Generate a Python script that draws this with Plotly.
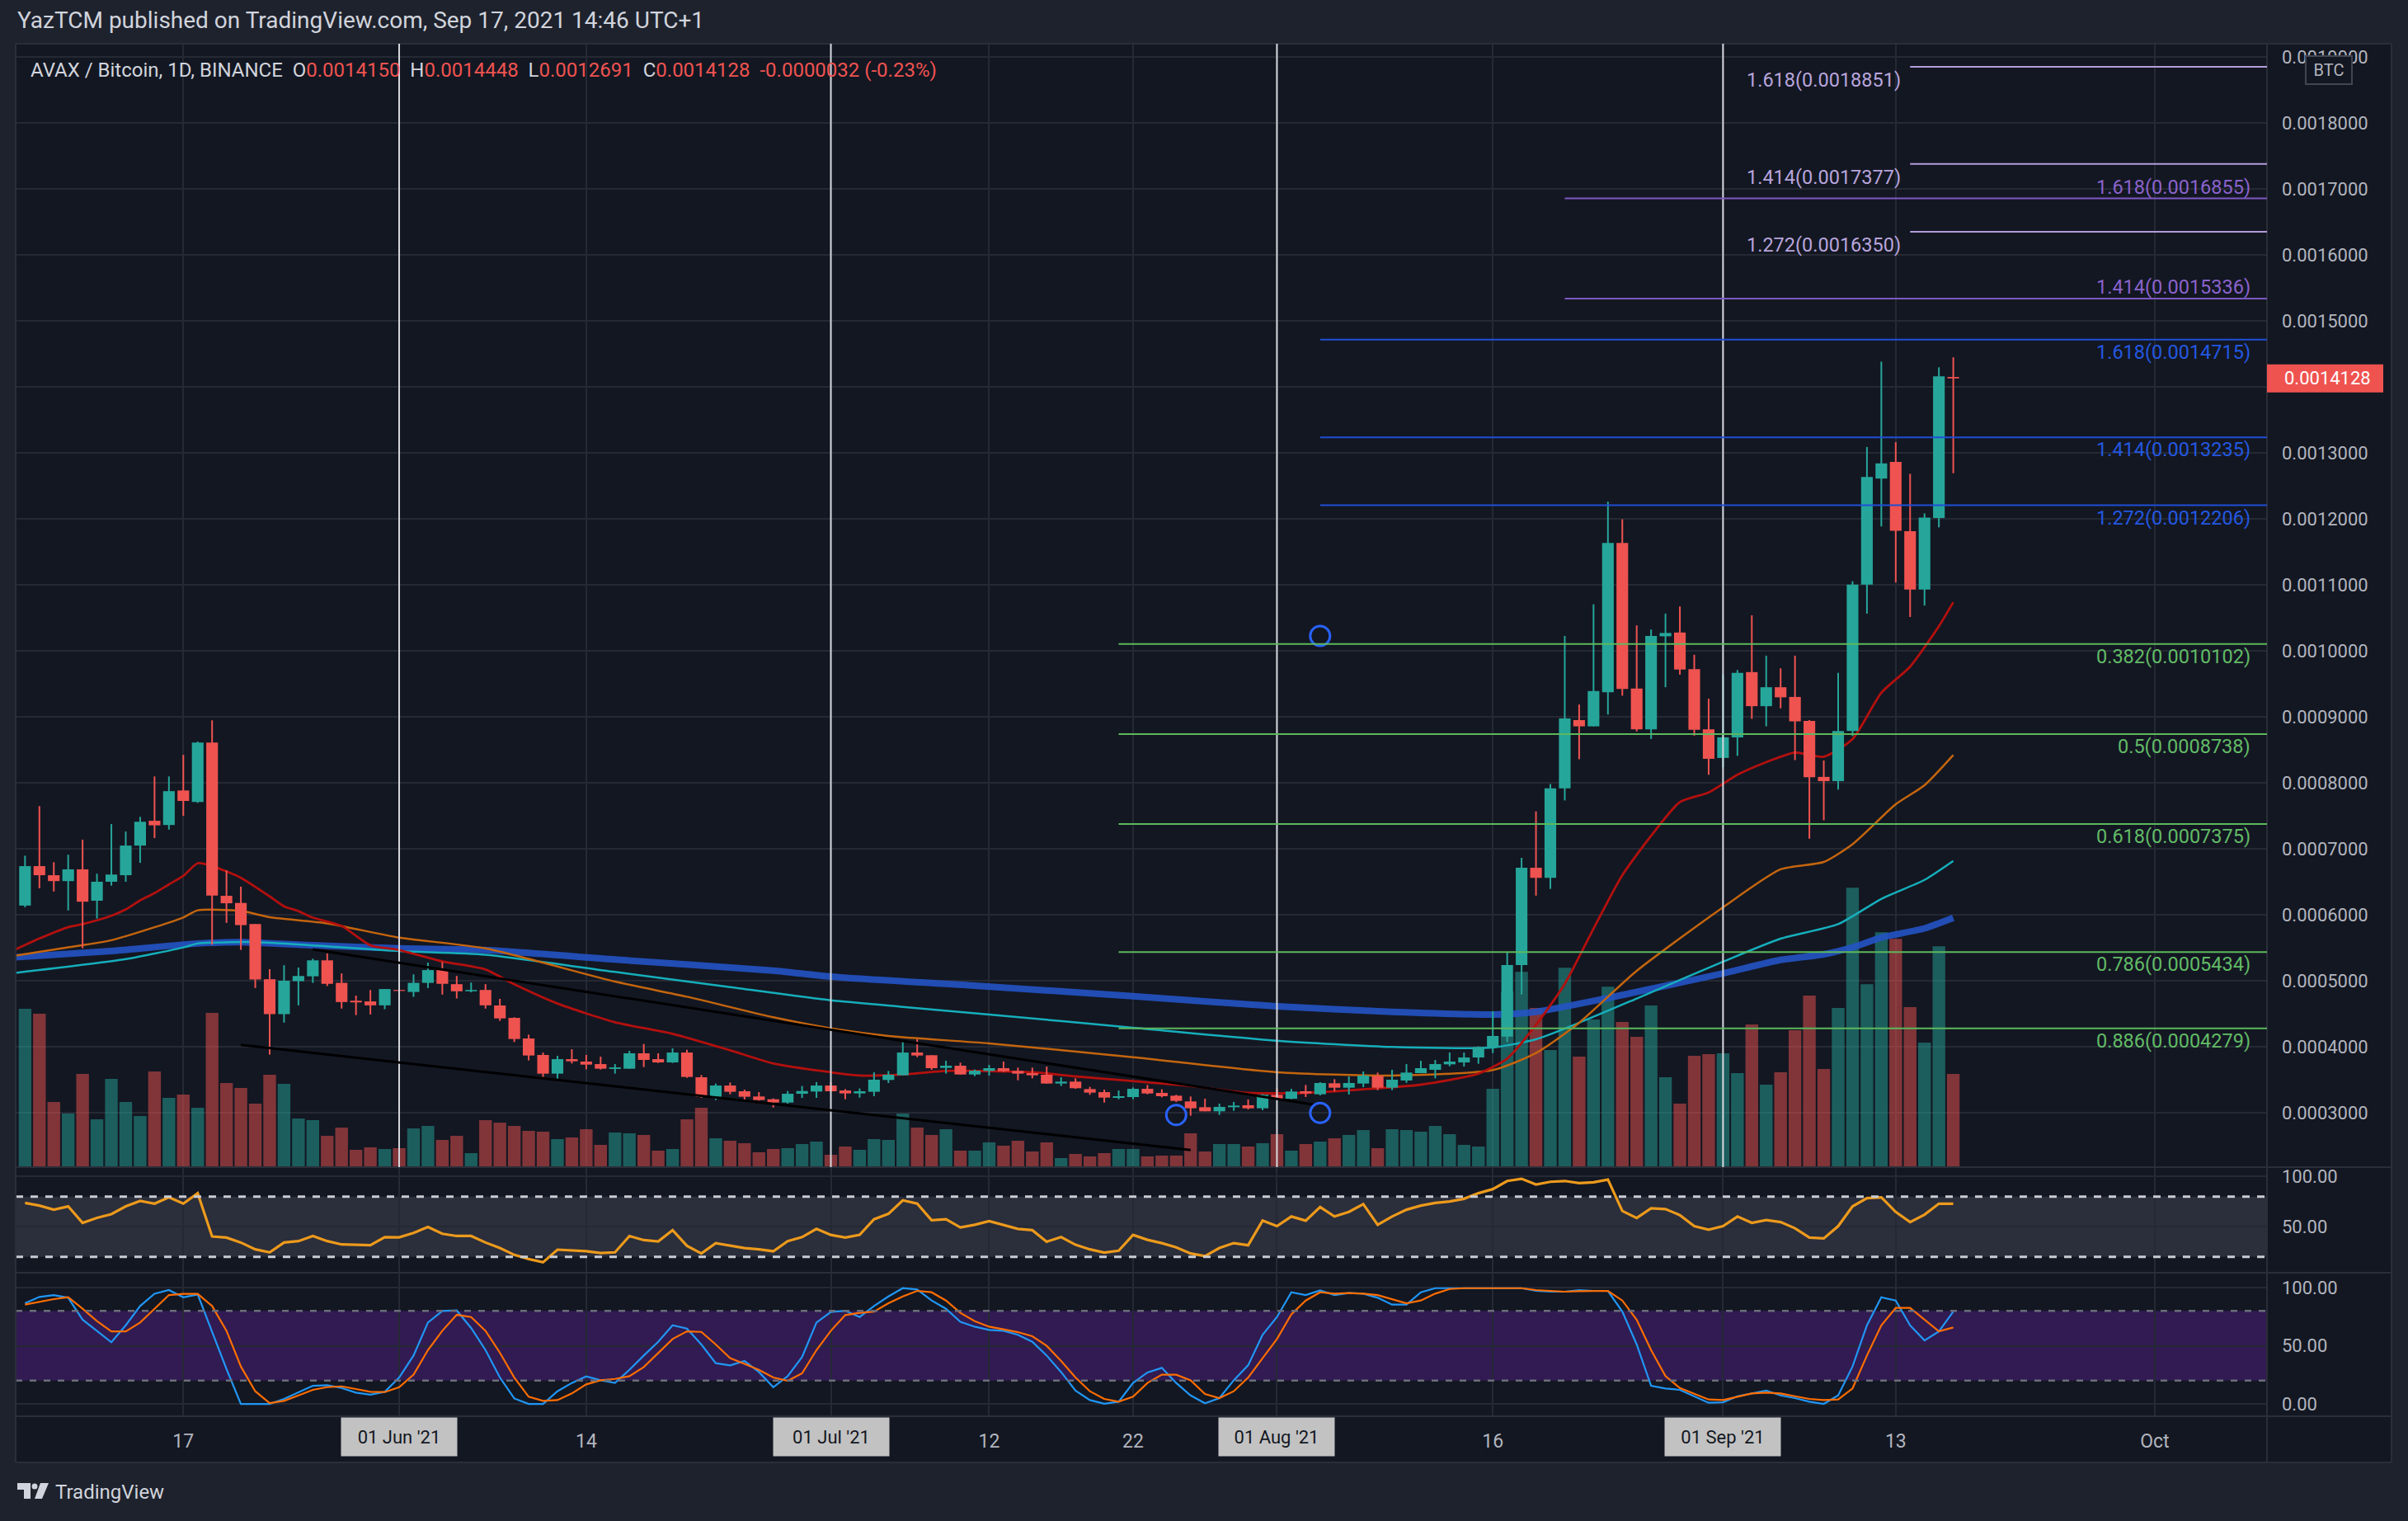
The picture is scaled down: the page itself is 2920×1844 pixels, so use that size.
import plotly.graph_objects as go
import pandas as pd

# ---------------------------------------------------------------- data
dates = pd.date_range("2021-05-06", "2021-09-17", freq="D")
SCALE = 1e-7  # price arrays below are in units of 1e-7 BTC

open_e7 = [6139, 6737, 6599, 6510, 6688, 6213, 6500, 6599, 7048, 7424, 7360, 7883, 7710, 8610, 6287, 6179, 5858, 5023, 4494, 4993, 5067, 5309, 4968, 4697, 4687, 4627,
           4860, 4830, 4968, 5161, 4948, 4840, 4860, 4625, 4437, 4125, 3875, 3592, 3812, 3775, 3737, 3663, 3667, 3900, 3812, 3762, 3912, 3537, 3242, 3412, 3325, 3246, 3204, 3154, 3287, 3321,
           3412, 3337, 3292, 3317, 3496, 3567, 3912, 3871, 3679, 3712, 3579, 3633, 3675, 3633, 3600, 3575, 3442, 3471, 3358, 3312, 3225, 3237, 3362, 3300, 3258, 3171, 3083, 3021, 3083, 3113, 3067,
           3271, 3212, 3325, 3279, 3446, 3379, 3442, 3558, 3379, 3488, 3600, 3650, 3733, 3762, 3837, 3987, 4154, 5237, 6712, 6559, 7917, 8950, 8855, 9371, 11635, 9428, 8810, 10220, 10277, 9722, 8810,
           8376, 8689, 9677, 9161, 9448, 9301, 8938, 8089, 8025, 8784, 11004, 12610, 12864, 11814, 10927, 12011, 14150]
high_e7 = [6895, 7646, 6796, 6910, 7137, 6623, 7374, 7261, 7483, 8096, 8096, 8422, 8624, 8946, 6673, 6426, 5858, 5176, 5235, 5200, 5334, 5413, 5111, 4775, 4859, 4874,
           4963, 5097, 5274, 5284, 5072, 4973, 4948, 4725, 4446, 4183, 3912, 3862, 3962, 3875, 3850, 3737, 3937, 4042, 3900, 3975, 3954, 3571, 3442, 3458, 3350, 3312, 3217, 3329, 3404, 3463,
           3463, 3358, 3367, 3612, 3633, 4071, 4113, 3871, 3787, 3758, 3654, 3725, 3775, 3683, 3683, 3700, 3537, 3521, 3392, 3350, 3337, 3383, 3421, 3354, 3271, 3246, 3212, 3138, 3163, 3200, 3279,
           3371, 3362, 3421, 3463, 3508, 3550, 3625, 3608, 3650, 3737, 3787, 3800, 3912, 3912, 4004, 4538, 5429, 6862, 7566, 7981, 10226, 9186, 10704, 12260, 11993, 10385, 10322, 10564, 10672, 9939, 9275,
           9639, 9709, 10538, 9926, 9735, 9926, 8950, 8338, 9665, 11055, 13089, 14382, 13161, 12682, 12083, 14296, 14448]
low_e7 = [6114, 6401, 6352, 6065, 5492, 5942, 6441, 6500, 6786, 7162, 7290, 7498, 7696, 5546, 5877, 5467, 4889, 3881, 4365, 4627, 4968, 4919, 4578, 4479, 4489, 4568,
          4756, 4756, 4889, 4790, 4731, 4825, 4578, 4392, 4071, 3792, 3542, 3517, 3746, 3658, 3654, 3592, 3667, 3692, 3754, 3754, 3529, 3225, 3192, 3279, 3175, 3183, 3079, 3138, 3225, 3225,
          3321, 3204, 3229, 3250, 3450, 3567, 3842, 3650, 3592, 3579, 3554, 3562, 3617, 3492, 3521, 3442, 3404, 3362, 3271, 3154, 3204, 3204, 3279, 3233, 3163, 2954, 3021, 2967, 3029, 3050, 3038,
          3192, 3204, 3238, 3262, 3321, 3275, 3387, 3342, 3342, 3454, 3600, 3521, 3704, 3700, 3742, 3904, 4071, 4792, 6290, 6392, 7732, 8357, 8855, 9033, 9320, 8778, 8663, 9448, 9639, 8714, 8121,
          8236, 8408, 8969, 8855, 9129, 8344, 7152, 7432, 7898, 8708, 10564, 11884, 11036, 10513, 10685, 11871, 12691]
close_e7 = [6737, 6599, 6510, 6688, 6198, 6500, 6609, 7048, 7409, 7355, 7873, 7725, 8610, 6292, 6174, 5843, 5018, 4494, 5000, 5072, 5309, 4953, 4677, 4672, 4627, 4874,
            4845, 4968, 5161, 4953, 4840, 4860, 4627, 4429, 4117, 3867, 3592, 3812, 3779, 3729, 3667, 3687, 3900, 3800, 3762, 3912, 3542, 3242, 3412, 3317, 3242, 3192, 3154, 3287, 3329, 3412,
            3325, 3292, 3325, 3500, 3575, 3912, 3867, 3675, 3712, 3579, 3637, 3675, 3629, 3592, 3567, 3442, 3471, 3371, 3304, 3229, 3250, 3362, 3292, 3250, 3179, 3067, 3021, 3088, 3108, 3067, 3271,
            3212, 3321, 3292, 3450, 3379, 3450, 3562, 3379, 3500, 3608, 3675, 3737, 3775, 3837, 3996, 4163, 5237, 6712, 6559, 7917, 8976, 8855, 9390, 11635, 9422, 8810, 10226, 10270, 9716, 8804, 8363,
            8689, 9665, 9161, 9448, 9295, 8931, 8083, 8025, 8784, 11004, 12634, 12840, 11820, 10927, 12018, 14160, 14128]
volume = [192, 186, 79, 65, 113, 58, 107, 79, 62, 116, 84, 88, 72, 187, 102, 96, 77, 112, 101, 59, 57, 38, 48, 21, 24, 22,
          23, 47, 50, 33, 38, 17, 57, 54, 50, 44, 43, 34, 36, 46, 27, 42, 41, 39, 20, 22, 58, 72, 35, 32, 29, 18, 22, 23, 28, 31,
          15, 25, 21, 34, 33, 65, 48, 39, 46, 20, 20, 30, 26, 32, 19, 30, 11, 16, 13, 17, 22, 22, 13, 14, 14, 41, 19, 28, 28, 25, 29,
          40, 20, 28, 31, 35, 39, 45, 23, 46, 45, 43, 50, 40, 27, 25, 95, 213, 237, 193, 142, 242, 134, 179, 219, 176, 158, 196, 109, 77, 135, 137,
          138, 114, 173, 100, 115, 166, 208, 119, 193, 339, 222, 285, 277, 194, 151, 268, 113]

rsi = [73.7, 71.0, 66.9, 70.2, 53.8, 58.7, 62.5, 70.2, 75.6, 72.9, 79.2, 72.9, 83.3, 40.2, 39.1, 34.2, 27.4, 24.4, 34.2, 35.6,
       40.7, 35.6, 32.3, 32.0, 31.5, 39.6, 39.4, 43.7, 49.7, 42.9, 40.7, 40.7, 34.2, 28.7, 21.9, 17.8, 14.5, 27.1, 26.6, 25.5,
       23.8, 24.4, 40.7, 36.6, 35.3, 46.5, 30.9, 23.3, 33.6, 30.9, 28.7, 27.4, 25.5, 35.6, 39.6, 47.8, 41.8, 39.1, 41.8, 57.4,
       62.8, 76.2, 72.9, 56.5, 57.4, 49.2, 51.9, 55.5, 51.9, 47.8, 46.5, 35.0, 39.6, 32.0, 27.4, 24.1, 26.0, 41.8, 36.9, 33.6,
       29.3, 23.3, 20.6, 28.7, 33.6, 31.5, 56.0, 50.5, 60.1, 56.0, 69.6, 60.1, 64.7, 72.4, 51.9, 60.1, 66.9, 71.0, 73.7, 75.1,
       77.8, 83.3, 87.4, 95.5, 97.7, 92.0, 94.7, 95.5, 93.4, 94.2, 96.9, 65.6, 58.7, 68.3, 67.5, 61.5, 50.5, 47.0, 50.5, 60.1,
       53.8, 56.5, 54.6, 48.4, 39.1, 38.3, 50.5, 70.2, 78.4, 79.2, 64.7, 54.6, 62.0, 72.9, 72.9]
stoch_k = [86.5, 92.0, 93.6, 91.3, 72.4, 62.4, 53.0, 67.6, 84.2, 94.8, 97.9, 91.7, 94.1, 62.0, 30.0, 0.0, 0.0, 0.0, 4.3, 9.7,
           15.6, 16.1, 13.7, 9.7, 8.0, 10.4, 22.7, 41.6, 70.0, 79.9, 80.4, 65.3, 46.3, 22.7, 4.7, 0.0, 0.0, 10.9, 18.0, 23.6,
           20.3, 18.0, 29.3, 41.6, 53.4, 67.6, 64.8, 51.1, 35.0, 33.1, 36.9, 27.4, 14.4, 23.9, 40.4, 70.0, 79.0, 80.1, 74.7, 84.2,
           92.4, 99.5, 98.4, 88.9, 81.8, 70.5, 66.4, 63.6, 62.9, 59.4, 53.4, 41.6, 27.4, 11.4, 3.3, 0.2, 1.9, 18.0, 27.0, 31.0,
           18.0, 7.3, 0.6, 5.0, 20.3, 33.3, 59.4, 74.7, 96.0, 93.6, 97.6, 93.6, 95.3, 94.8, 91.3, 85.4, 85.4, 96.0, 99.5, 99.5,
           99.5, 99.5, 99.5, 99.5, 99.5, 97.2, 96.5, 96.5, 97.9, 97.2, 97.2, 79.4, 51.1, 15.6, 13.3, 12.1, 6.6, 1.0, 1.4, 6.6,
           9.0, 11.4, 7.3, 5.0, 1.9, 0.0, 7.3, 32.2, 67.6, 91.7, 88.9, 67.6, 54.6, 62.4, 79.4]
stoch_d = [85.4, 87.7, 90.1, 91.7, 81.8, 71.2, 62.4, 62.4, 70.0, 81.8, 93.6, 94.6, 94.6, 84.2, 62.9, 32.2, 10.9, 0.7, 2.6, 7.3,
           12.1, 14.4, 15.1, 12.8, 10.4, 10.2, 14.4, 25.1, 46.3, 62.9, 76.6, 74.7, 62.9, 44.0, 22.7, 6.2, 2.6, 3.3, 9.0, 16.8,
           20.3, 21.5, 23.9, 31.7, 44.0, 55.8, 62.4, 61.9, 51.1, 39.3, 34.5, 29.3, 22.7, 19.9, 26.3, 46.3, 62.9, 76.4, 78.3, 79.4,
           86.5, 92.4, 97.2, 96.0, 88.9, 78.3, 71.2, 66.4, 64.1, 61.7, 58.2, 49.9, 36.9, 22.7, 10.9, 4.3, 1.9, 6.2, 18.0, 25.1,
           25.1, 20.3, 8.5, 5.0, 10.9, 22.7, 39.3, 55.8, 77.1, 88.9, 96.0, 94.8, 95.3, 94.8, 93.6, 90.1, 86.5, 88.9, 94.8, 98.8,
           99.5, 99.5, 99.5, 99.5, 99.5, 97.9, 97.2, 96.5, 96.9, 97.2, 97.2, 88.9, 72.4, 46.3, 23.9, 13.7, 8.5, 3.8, 3.3, 6.2,
           9.0, 9.7, 9.0, 6.6, 4.3, 3.3, 3.8, 13.3, 41.6, 67.6, 82.5, 82.5, 72.4, 62.4, 65.7]

# moving averages (1e-7 BTC)
ema20_dates = ["2021-05-05", "2021-05-07", "2021-05-09", "2021-05-10", "2021-05-12", "2021-05-13", "2021-05-14", "2021-05-15", "2021-05-16", "2021-05-17",
               "2021-05-18", "2021-05-19", "2021-05-21", "2021-05-23", "2021-05-24", "2021-05-25", "2021-05-26", "2021-05-28", "2021-05-30", "2021-06-01",
               "2021-06-04", "2021-06-07", "2021-06-09", "2021-06-12", "2021-06-16", "2021-06-20", "2021-06-24", "2021-06-27", "2021-07-01", "2021-07-03",
               "2021-07-06", "2021-07-09", "2021-07-15", "2021-07-18", "2021-07-22", "2021-07-26", "2021-07-30", "2021-08-03", "2021-08-07", "2021-08-11",
               "2021-08-15", "2021-08-17", "2021-08-19", "2021-08-21", "2021-08-23", "2021-08-25", "2021-08-27", "2021-08-29", "2021-08-31", "2021-09-02",
               "2021-09-04", "2021-09-06", "2021-09-08", "2021-09-10", "2021-09-12", "2021-09-14", "2021-09-16", "2021-09-17"]
ema20_e7 = [5440, 5640, 5812, 5858, 5984, 6080, 6218, 6327, 6460, 6589,
            6781, 6740, 6560, 6278, 6129, 6055, 5956, 5830, 5536, 5465,
            5293, 5170, 4946, 4654, 4371, 4196, 3946, 3746, 3613, 3563,
            3579, 3634, 3613, 3550, 3479, 3404, 3300, 3300, 3354, 3425,
            3592, 3821, 4330, 4950, 5790, 6600, 7196, 7707, 7853, 8121,
            8313, 8459, 8395, 8663, 9365, 9760, 10373, 10736]
ema50_dates = ["2021-05-05", "2021-05-09", "2021-05-12", "2021-05-15", "2021-05-17", "2021-05-18", "2021-05-21", "2021-05-23", "2021-05-27", "2021-06-01",
               "2021-06-07", "2021-06-16", "2021-06-21", "2021-06-27", "2021-07-01", "2021-07-05", "2021-07-12", "2021-07-22", "2021-08-01", "2021-08-09",
               "2021-08-16", "2021-08-19", "2021-08-22", "2021-08-26", "2021-09-01", "2021-09-05", "2021-09-08", "2021-09-10", "2021-09-13", "2021-09-15", "2021-09-17"]
ema50_e7 = [5370, 5505, 5614, 5811, 5959, 6067, 6058, 5963, 5870, 5653,
            5490, 4987, 4758, 4446, 4279, 4163, 4050, 3841, 3613, 3563,
            3646, 3904, 4363, 5150, 6113, 6688, 6800, 7069, 7675, 7963, 8421]
ema100_dates = ["2021-05-05", "2021-05-13", "2021-05-17", "2021-05-18", "2021-05-22", "2021-06-01", "2021-06-07", "2021-06-16", "2021-06-24", "2021-07-01",
                "2021-07-06", "2021-07-12", "2021-07-22", "2021-08-01", "2021-08-09", "2021-08-16", "2021-08-19", "2021-08-22", "2021-08-26", "2021-09-01",
                "2021-09-05", "2021-09-09", "2021-09-12", "2021-09-15", "2021-09-17"]
ema100_e7 = [5110, 5327, 5505, 5564, 5585, 5450, 5395, 5133, 4904, 4704,
             4604, 4488, 4288, 4091, 3996, 3988, 4113, 4363, 4730, 5288,
             5637, 5857, 6240, 6528, 6816]
ema200_dates = ["2021-05-05", "2021-05-12", "2021-05-18", "2021-05-21", "2021-05-26", "2021-06-01", "2021-06-07", "2021-06-16", "2021-06-27", "2021-07-01",
                "2021-07-11", "2021-07-22", "2021-08-01", "2021-08-09", "2021-08-16", "2021-08-19", "2021-08-24", "2021-09-01", "2021-09-05", "2021-09-08",
                "2021-09-10", "2021-09-12", "2021-09-15", "2021-09-17"]
ema200_e7 = [5350, 5450, 5564, 5584, 5537, 5490, 5465, 5321, 5154, 5062,
             4925, 4765, 4612, 4529, 4488, 4529, 4738, 5112, 5315, 5400,
             5506, 5654, 5794, 5953]

# Fibonacci drawings
fib_green_levels = [0.382, 0.5, 0.618, 0.786, 0.886]
fib_green_prices = [0.0010102, 0.0008738, 0.0007375, 0.0005434, 0.0004279]
fib_blue_levels = [1.272, 1.414, 1.618]
fib_blue_prices = [0.0012206, 0.0013235, 0.0014715]
fib_purple_levels = [1.414, 1.618]
fib_purple_prices = [0.0015336, 0.0016855]
fib_lav_levels = [1.272, 1.414, 1.618]
fib_lav_prices = [0.0016350, 0.0017377, 0.0018851]
fib_starts = {"green": "2021-07-21", "blue": "2021-08-04", "purple": "2021-08-21", "lav": "2021-09-14"}

# other drawings
month_lines = ["2021-06-01", "2021-07-01", "2021-08-01", "2021-09-01"]
trend_upper = (["2021-05-26", "2021-08-03 14:00"], [0.0005475, 0.0003121])
trend_lower = (["2021-05-21", "2021-07-26"], [0.0004028, 0.0002434])
circle_dates = ["2021-07-25", "2021-08-04", "2021-08-04"]
circle_prices = [0.0002966, 0.0002996, 0.0010225]

price_ticks = [0.0003, 0.0004, 0.0005, 0.0006, 0.0007, 0.0008, 0.0009, 0.0010, 0.0011, 0.0012,
               0.0013, 0.0014, 0.0015, 0.0016, 0.0017, 0.0018, 0.0019]
time_ticks = ["2021-05-17", "2021-06-01", "2021-06-14", "2021-07-01", "2021-07-12", "2021-07-22",
              "2021-08-01", "2021-08-16", "2021-09-01", "2021-09-13", "2021-10-01"]
time_labels = ["17", "", "14", "", "12", "22", "", "16", "", "13", "Oct"]

# ---------------------------------------------------------------- style
W, H = 2920, 1844
PL, PR, PT, PB = 19, 2749, 53, 1717
MAIN_B, RSI_B = 1415, 1543
FRAME_R, FRAME_B = 2900, 1773
XMIN, XMAX = "2021-05-05 08:24", "2021-10-08 19:12"
PRICE_RANGE = [0.0002175, 0.00192]
RSI_RANGE = [4.1, 109.3]
STOCH_RANGE = [-10.6, 112.8]
VOL_HEADROOM = 4.02

BG = "#131722"
PAGE = "#1e222d"
GRID = "#252934"
BORDER = "#2a2e39"
TXT = "#b2b5be"
UP, DN = "#26a69a", "#ef5350"
UP_V, DN_V = "rgba(38,166,154,0.5)", "rgba(239,83,80,0.5)"
FONT = "Roboto"
DAY_MS = 86400000


def fx(x):
    return (x - PL) / (PR - PL)


def fy(y):
    return (PB - y) / (PB - PT)


o = [v * SCALE for v in open_e7]
h = [v * SCALE for v in high_e7]
l = [v * SCALE for v in low_e7]
c = [v * SCALE for v in close_e7]
up = [ci >= oi for oi, ci in zip(o, c)]

fig = go.Figure()

# volume (base axis, drawn lowest)
fig.add_trace(go.Bar(x=dates, y=volume, width=0.88 * DAY_MS,
                     marker=dict(color=[UP_V if u else DN_V for u in up], line=dict(width=0)),
                     yaxis="y", hoverinfo="skip", showlegend=False))

# moving averages
for d, v, col, w, op in [(ema200_dates, ema200_e7, "#2453c4", 8, 0.9),
                         (ema100_dates, ema100_e7, "#16aebb", 2.5, 1),
                         (ema50_dates, ema50_e7, "#c4650e", 2.5, 1),
                         (ema20_dates, ema20_e7, "#b3100e", 2.8, 1)]:
    fig.add_trace(go.Scatter(x=d, y=[q * SCALE for q in v], mode="lines", opacity=op,
                             line=dict(color=col, width=w, shape="spline", smoothing=0.6),
                             yaxis="y2", hoverinfo="skip", showlegend=False))

# candles: bodies
body_base = [min(a, b) for a, b in zip(o, c)]
body_h = [max(abs(b - a), 2e-7) for a, b in zip(o, c)]
fig.add_trace(go.Bar(x=dates, y=body_h, base=body_base, width=0.81 * DAY_MS,
                     marker=dict(color=[UP if u else DN for u in up], line=dict(width=0)),
                     yaxis="y3", hoverinfo="skip", showlegend=False))
# candles: wicks
for flag, col in [(True, UP), (False, DN)]:
    wx, wy = [], []
    for d, hi, lo, u in zip(dates, h, l, up):
        if u == flag:
            wx += [d, d, None]
            wy += [lo, hi, None]
    fig.add_trace(go.Scatter(x=wx, y=wy, mode="lines", line=dict(color=col, width=2),
                             yaxis="y3", hoverinfo="skip", showlegend=False))

# RSI
fig.add_trace(go.Scatter(x=dates, y=rsi, mode="lines", line=dict(color="#ec9a1c", width=3.2),
                         yaxis="y4", hoverinfo="skip", showlegend=False))
# Stoch RSI
fig.add_trace(go.Scatter(x=dates, y=stoch_k, mode="lines", line=dict(color="#2196f3", width=2.2),
                         yaxis="y5", hoverinfo="skip", showlegend=False))
fig.add_trace(go.Scatter(x=dates, y=stoch_d, mode="lines", line=dict(color="#ff6d00", width=2.2),
                         yaxis="y5", hoverinfo="skip", showlegend=False))

shapes = []
annotations = []

# chart background / frame
shapes.append(dict(type="rect", xref="paper", yref="paper", x0=fx(PL), x1=fx(FRAME_R), y0=fy(FRAME_B), y1=fy(PT),
                   fillcolor=BG, line=dict(width=0), layer="below"))
# RSI band
shapes.append(dict(type="rect", xref="paper", yref="y4", x0=0, x1=1, y0=20, y1=80,
                   fillcolor="#2b2e3b", line=dict(width=0), layer="below"))
# Stoch band
shapes.append(dict(type="rect", xref="paper", yref="y5", x0=0, x1=1, y0=20, y1=80,
                   fillcolor="#311b52", line=dict(width=0), layer="below"))
for yv in (80, 20):
    shapes.append(dict(type="line", xref="paper", yref="y4", x0=0, x1=1, y0=yv, y1=yv,
                       line=dict(color="#c9ccd3", width=3, dash="9px,9px")))
    shapes.append(dict(type="line", xref="paper", yref="y5", x0=0, x1=1, y0=yv, y1=yv,
                       line=dict(color="#6b6e7a", width=2.5, dash="8px,9px")))

# frame lines
for yy in (PT, MAIN_B, RSI_B, PB, FRAME_B):
    shapes.append(dict(type="line", xref="paper", yref="paper", x0=fx(PL), x1=fx(FRAME_R), y0=fy(yy), y1=fy(yy),
                       line=dict(color=BORDER, width=2)))
for xx in (PL, PR, FRAME_R):
    shapes.append(dict(type="line", xref="paper", yref="paper", x0=fx(xx), x1=fx(xx), y0=fy(PT), y1=fy(FRAME_B),
                       line=dict(color=BORDER, width=2)))

# vertical month lines (main pane only)
for d in month_lines:
    shapes.append(dict(type="line", xref="x", yref="y3 domain", x0=d, x1=d, y0=0, y1=1,
                       line=dict(color="#d6d8de", width=2)))

# trend lines
for (tx, ty) in (trend_upper, trend_lower):
    shapes.append(dict(type="line", xref="x", yref="y3", x0=tx[0], x1=tx[1], y0=ty[0], y1=ty[1],
                       line=dict(color="#000000", width=3)))

# circles
for d, p in zip(circle_dates, circle_prices):
    shapes.append(dict(type="circle", xref="x", yref="y3", xsizemode="pixel", ysizemode="pixel",
                       xanchor=d, yanchor=p, x0=-12, x1=12, y0=-12, y1=12,
                       line=dict(color="#2962ff", width=3)))

# fib lines + labels
FIB_RIGHT = fx(2731)
FIB_SIZE = 23.5
for key, levels, prices, lcol, tcol, pos in [
        ("green", fib_green_levels, fib_green_prices, "#5cb85c", "#62bb66", "below"),
        ("blue", fib_blue_levels, fib_blue_prices, "#1f4fd6", "#2358e0", "below"),
        ("purple", fib_purple_levels, fib_purple_prices, "#7e57c2", "#8a63cc", "above"),
        ("lav", fib_lav_levels, fib_lav_prices, "#b39ddb", "#b8a5dc", "left")]:
    for lv, p in zip(levels, prices):
        shapes.append(dict(type="line", xref="x", yref="y3", x0=fib_starts[key], x1=XMAX, y0=p, y1=p,
                           line=dict(color=lcol, width=2)))
        txt = f"{lv:g}({p:.7f})"
        if pos == "left":
            annotations.append(dict(xref="x", yref="y3", x=fib_starts[key], y=p, xanchor="right", yanchor="middle",
                                    xshift=-9, yshift=-16, text=txt, showarrow=False,
                                    font=dict(family=FONT, size=FIB_SIZE, color=tcol)))
        else:
            annotations.append(dict(xref="paper", yref="y3", x=FIB_RIGHT, y=p, xanchor="right", yanchor="middle",
                                    yshift=(-15 if pos == "below" else 14), text=txt, showarrow=False,
                                    font=dict(family=FONT, size=FIB_SIZE, color=tcol)))

# last price label
last = c[-1]
shapes.append(dict(type="rect", xref="paper", yref="y3", ysizemode="pixel", yanchor=last, y0=-17, y1=17,
                   x0=fx(PR), x1=fx(2890), fillcolor="#ef5350", line=dict(width=0)))
annotations.append(dict(xref="paper", yref="y3", x=fx(2768), y=last, xanchor="left", yanchor="middle",
                        text=f"{last:.7f}", showarrow=False, font=dict(family=FONT, size=22, color="#ffffff")))

# BTC currency badge
annotations.append(dict(xref="paper", yref="paper", x=fx(2824), y=fy(85), xanchor="center", yanchor="middle",
                        text="BTC", showarrow=False, width=52, height=30, bgcolor=BG, bordercolor="#434651",
                        borderwidth=2, font=dict(family=FONT, size=20, color=TXT)))

# month boxes on time axis
for d in month_lines:
    annotations.append(dict(xref="x", yref="paper", x=d, y=fy(1742), xanchor="center", yanchor="middle",
                            text=pd.Timestamp(d).strftime("%d %b '%y"), showarrow=False, width=138, height=44,
                            bgcolor="#c2c2c2", font=dict(family=FONT, size=22, color="#131722")))

# header
annotations.append(dict(xref="paper", yref="paper", x=fx(19), y=fy(25), xanchor="left", yanchor="middle",
                        text="YazTCM published on TradingView.com, Sep 17, 2021 14:46 UTC+1", showarrow=False,
                        font=dict(family=FONT, size=28, color="#d1d4dc")))
chg = c[-1] - c[-2]
pct = chg / c[-2] * 100
sp = "\u00a0\u00a0"
red = lambda s: f"<span style='color:{DN}'>{s}</span>"
legend_txt = ("AVAX / Bitcoin, 1D, BINANCE" + sp + "O" + red(f"{o[-1]:.7f}") + sp + "H" + red(f"{h[-1]:.7f}") + sp +
              "L" + red(f"{l[-1]:.7f}") + sp + "C" + red(f"{c[-1]:.7f}") + sp + red(f"{chg:.7f} ({pct:.2f}%)"))
annotations.append(dict(xref="paper", yref="paper", x=fx(35), y=fy(85), xanchor="left", yanchor="middle",
                        text=legend_txt, showarrow=False, font=dict(family=FONT, size=24, color="#d1d4dc")))

# TradingView logo
def pth(pts):
    return "M" + " L".join(f"{fx(a)},{fy(b)}" for a, b in pts) + " Z"
shapes.append(dict(type="path", xref="paper", yref="paper", path=pth([(21, 1798), (37, 1798), (37, 1817), (29, 1817), (29, 1806), (21, 1806)]),
                   fillcolor="#d1d4dc", line=dict(width=0)))
shapes.append(dict(type="circle", xref="paper", yref="paper", x0=fx(38.5), x1=fx(45.5), y0=fy(1805.5), y1=fy(1798.5),
                   fillcolor="#d1d4dc", line=dict(width=0)))
shapes.append(dict(type="path", xref="paper", yref="paper", path=pth([(49, 1798), (59, 1798), (51, 1817), (42, 1817)]),
                   fillcolor="#d1d4dc", line=dict(width=0)))
annotations.append(dict(xref="paper", yref="paper", x=fx(65), y=fy(1809), xanchor="left", yanchor="middle",
                        text="TradingView", showarrow=False, font=dict(family=FONT, size=24, color="#d1d4dc")))

main_dom = [fy(MAIN_B), 1]
rsi_dom = [fy(RSI_B), fy(MAIN_B)]
stoch_dom = [0, fy(RSI_B)]
tick_font = dict(family=FONT, size=22, color=TXT)

fig.update_layout(
    width=W, height=H,
    margin=dict(l=PL, r=W - PR, t=PT, b=H - PB, autoexpand=False),
    paper_bgcolor=PAGE, plot_bgcolor=BG,
    barmode="overlay", showlegend=False, hovermode=False,
    shapes=shapes, annotations=annotations,
    xaxis=dict(type="date", range=[XMIN, XMAX], anchor="y5", tickvals=time_ticks, ticktext=time_labels,
               showgrid=True, gridcolor=GRID, gridwidth=2, ticks="", showline=False, zeroline=False,
               tickfont=dict(family=FONT, size=23, color=TXT), ticklabelstandoff=14),
    yaxis=dict(domain=main_dom, range=[0, max(volume) * VOL_HEADROOM], visible=False, showgrid=False, zeroline=False),
    yaxis2=dict(overlaying="y", range=PRICE_RANGE, visible=False, showgrid=False, zeroline=False),
    yaxis3=dict(overlaying="y", anchor="x", side="right", range=PRICE_RANGE, tickvals=price_ticks,
                ticktext=["" if abs(t - 0.0014) < 1e-9 else f"{t:.7f}" for t in price_ticks],
                showgrid=True, gridcolor=GRID, gridwidth=2, ticks="", zeroline=False, showline=False,
                tickfont=tick_font, ticklabelstandoff=17),
    yaxis4=dict(domain=rsi_dom, anchor="x", side="right", range=RSI_RANGE, tickvals=[50, 100], ticktext=["50.00", "100.00"],
                showgrid=True, gridcolor=GRID, gridwidth=2, ticks="", zeroline=False, showline=False,
                tickfont=tick_font, ticklabelstandoff=17),
    yaxis5=dict(domain=stoch_dom, anchor="x", side="right", range=STOCH_RANGE, tickvals=[0, 50, 100],
                ticktext=["0.00", "50.00", "100.00"],
                showgrid=True, gridcolor=GRID, gridwidth=2, ticks="", zeroline=False, showline=False,
                tickfont=tick_font, ticklabelstandoff=17),
)

fig.write_html("out.html", config={"displayModeBar": False, "staticPlot": True},
               post_script="document.body.style.margin='0px';document.body.style.overflow='hidden';")
